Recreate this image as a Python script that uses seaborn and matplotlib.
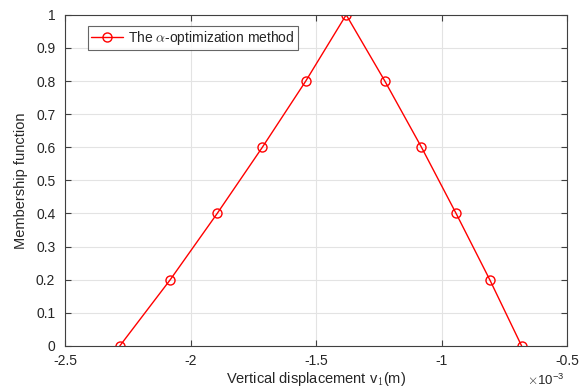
import matplotlib
matplotlib.use("Agg")
import matplotlib.pyplot as plt
import seaborn as sns
import pandas as pd

# datos: desplazamiento vertical (en unidades de 1e-3 m) y funcion de pertenencia
desplazamiento = [-2.282, -2.081, -1.894, -1.714, -1.541, -1.380,
                  -1.226, -1.080, -0.942, -0.808, -0.681]
pertenencia = [0, 0.2, 0.4, 0.6, 0.8, 1.0, 0.8, 0.6, 0.4, 0.2, 0]
xticks = [-2.5, -2, -1.5, -1, -0.5]
yticks = [0, 0.1, 0.2, 0.3, 0.4, 0.5, 0.6, 0.7, 0.8, 0.9, 1]

df = pd.DataFrame({"x": desplazamiento, "y": pertenencia})

sns.set_style("white")
plt.rcParams["font.family"] = ["Liberation Sans", "DejaVu Sans"]
plt.rcParams["mathtext.fontset"] = "cm"

fig = plt.figure(figsize=(5.81, 3.90), dpi=100)
ax = fig.add_axes([0.112, 0.113, 0.864, 0.849])

sns.lineplot(data=df, x="x", y="y", sort=False, color="#ff0000", linewidth=1.0,
             marker="o", markersize=6.5, markerfacecolor="none",
             markeredgecolor="#ff0000", markeredgewidth=1.0,
             label=r"The $\alpha$-optimization method", ax=ax)

ax.set_xlim(-2.5, -0.5)
ax.set_ylim(0, 1)
ax.set_xticks(xticks)
ax.set_xticklabels([f"{t:g}" for t in xticks])
ax.set_yticks(yticks)
ax.set_yticklabels([f"{t:g}" for t in yticks])
ax.grid(True, color="#e3e3e3", linewidth=0.8)
ax.set_axisbelow(True)

for s in ax.spines.values():
    s.set_color("#404040")
    s.set_linewidth(0.8)
    s.set_visible(True)
ax.tick_params(direction="in", length=4, width=0.8, color="#404040",
               labelcolor="#262626", labelsize=10, top=True, right=True,
               bottom=True, left=True)
ax.tick_params(axis="x", pad=6)
ax.tick_params(axis="y", pad=7)

ax.set_xlabel(r"Vertical displacement v$_1$(m)", fontsize=10.5, color="#262626", labelpad=1)
ax.set_ylabel("Membership function", fontsize=10.5, color="#262626", labelpad=6)
ax.text(0.995, -0.105, r"$\times\mathregular{10^{-3}}$", transform=ax.transAxes,
        fontsize=9.5, color="#262626", ha="right", va="center")

leg = ax.legend(loc="upper left", bbox_to_anchor=(0.046, 0.965), fontsize=10,
                frameon=True, fancybox=False, edgecolor="#404040",
                handlelength=2.3, borderpad=0.2, handletextpad=0.4,
                borderaxespad=0)
leg.get_frame().set_linewidth(0.8)
for t in leg.get_texts():
    t.set_color("#262626")

fig.savefig("out.png", dpi=100)
